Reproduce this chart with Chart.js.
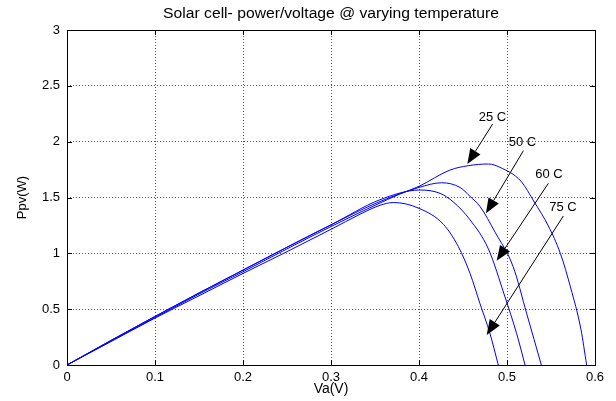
<!DOCTYPE html>
<html>
<head>
<meta charset="utf-8">
<script src="https://cdn.jsdelivr.net/npm/chart.js@4.4.1/dist/chart.umd.min.js"></script>
<style>
  html, body { margin: 0; background: #fff; }
  #wrap { width: 616px; height: 401px; }
</style>
</head>
<body>
<div id="wrap"><canvas id="pvChart"></canvas></div>
<script>
// P-V curves (voltage in V, power in W)
const volt25 = [0, 0.05, 0.1, 0.15, 0.2, 0.25, 0.3, 0.35, 0.378, 0.4, 0.435, 0.456, 0.479, 0.492, 0.5156, 0.531, 0.547, 0.5606, 0.5724, 0.584, 0.5905];
const pow25  = [0, 0.215, 0.425, 0.635, 0.835, 1.04, 1.24, 1.43, 1.53, 1.60, 1.745, 1.785, 1.80, 1.77, 1.648, 1.46, 1.245, 1.0, 0.69, 0.32, 0];

const volt50 = [0, 0.05, 0.1, 0.15, 0.2, 0.25, 0.3, 0.35, 0.4, 0.4258, 0.4466, 0.458, 0.4693, 0.4864, 0.507, 0.5224, 0.539];
const pow50  = [0, 0.22, 0.435, 0.645, 0.85, 1.055, 1.255, 1.445, 1.59, 1.632, 1.59, 1.51, 1.42, 1.19, 0.88, 0.46, 0];

const volt60 = [0, 0.05, 0.1, 0.15, 0.2, 0.25, 0.3, 0.3557, 0.401, 0.424, 0.439, 0.458, 0.4788, 0.4977, 0.511, 0.5205];
const pow60  = [0, 0.22, 0.435, 0.645, 0.85, 1.055, 1.255, 1.48, 1.567, 1.537, 1.46, 1.30, 1.04, 0.61, 0.28, 0];

const volt75 = [0, 0.05, 0.1, 0.15, 0.2, 0.25, 0.3, 0.333, 0.3557, 0.371, 0.40, 0.4277, 0.4447, 0.458, 0.4693, 0.4807, 0.4901];
const pow75  = [0, 0.21, 0.42, 0.62, 0.82, 1.015, 1.215, 1.35, 1.43, 1.455, 1.403, 1.26, 1.06, 0.82, 0.55, 0.28, 0];

// arrow annotations (data coordinates)
const arrowText = ['25 C', '50 C', '60 C', '75 C'];
const textX = [0.4835, 0.5176, 0.5477, 0.5636];
const textY = [2.22, 1.99, 1.71, 1.41];
const fromX = [0.4837, 0.5186, 0.547, 0.564];
const fromY = [2.158, 1.919, 1.627, 1.334];
const tipX  = [0.4549, 0.4761, 0.4883, 0.4769];
const tipY  = [1.80, 1.358, 0.934, 0.269];

const xTicks = [0, 0.1, 0.2, 0.3, 0.4, 0.5, 0.6];
const yTicks = [0, 0.5, 1, 1.5, 2, 2.5, 3];

const FONT = 'Liberation Sans, Arial, sans-serif';

function pts(xs, ys) {
    return xs.map((v, i) => ({ x: v, y: ys[i] }));
}

function series(label, xs, ys) {
    return {
        label: label,
        data: pts(xs, ys),
        borderColor: '#0000ff',
        borderWidth: 1,
        pointRadius: 0,
        fill: false,
        cubicInterpolationMode: 'monotone',
    };
}

const boxPlugin = {
    id: 'matlabBox',
    beforeDraw(chart) {
        const c = chart.ctx;
        c.save();
        c.fillStyle = '#fff';
        c.fillRect(0, 0, chart.width, chart.height);
        c.restore();
    },
    afterDraw(chart) {
        const c = chart.ctx;
        const { left, right, top, bottom } = chart.chartArea;
        const xs = chart.scales.x, ys = chart.scales.y;
        c.save();
        c.strokeStyle = '#000';
        c.lineWidth = 1;
        c.strokeRect(Math.round(left) + 0.5, Math.round(top) + 0.5, Math.round(right - left), Math.round(bottom - top));
        // inward ticks
        c.beginPath();
        xTicks.forEach(v => {
            const px = Math.round(xs.getPixelForValue(v)) + 0.5;
            c.moveTo(px, bottom); c.lineTo(px, bottom - 5);
            c.moveTo(px, top); c.lineTo(px, top + 5);
        });
        yTicks.forEach(v => {
            const py = Math.round(ys.getPixelForValue(v)) + 0.5;
            c.moveTo(left, py); c.lineTo(left + 5, py);
            c.moveTo(right, py); c.lineTo(right - 5, py);
        });
        c.stroke();

        // title (reference text is a bit wider than Arial)
        c.fillStyle = '#000';
        c.textAlign = 'center';
        c.textBaseline = 'middle';
        c.save();
        c.translate((left + right) / 2, 14);
        c.scale(1.12, 1);
        c.font = '14px ' + FONT;
        c.fillText('Solar cell- power/voltage @ varying temperature', 0, 0);
        c.restore();

        // arrows
        c.font = '13px ' + FONT;
        arrowText.forEach((t, i) => {
            const x1 = xs.getPixelForValue(fromX[i]), y1 = ys.getPixelForValue(fromY[i]);
            const x2 = xs.getPixelForValue(tipX[i]), y2 = ys.getPixelForValue(tipY[i]);
            const ang = Math.atan2(y2 - y1, x2 - x1);
            const len = 15, hw = 6;
            const bx = x2 - len * Math.cos(ang), by = y2 - len * Math.sin(ang);
            c.beginPath();
            c.moveTo(x1, y1); c.lineTo(bx, by);
            c.stroke();
            c.beginPath();
            c.moveTo(x2, y2);
            c.lineTo(bx + hw * Math.sin(ang), by - hw * Math.cos(ang));
            c.lineTo(bx - hw * Math.sin(ang), by + hw * Math.cos(ang));
            c.closePath();
            c.fill();
            c.fillText(t, xs.getPixelForValue(textX[i]), ys.getPixelForValue(textY[i]));
        });
        c.restore();
    }
};

const ctx = document.getElementById('pvChart').getContext('2d');

const config = {
    type: 'line',
    data: {
        datasets: [
            series('25 C', volt25, pow25),
            series('50 C', volt50, pow50),
            series('60 C', volt60, pow60),
            series('75 C', volt75, pow75),
        ],
    },
    options: {
        responsive: true,
        maintainAspectRatio: false,
        animation: false,
        layout: { padding: { top: 30, right: 21, left: 0, bottom: 0 } },
        plugins: {
            legend: { display: false },
            tooltip: { enabled: false },
        },
        scales: {
            x: {
                type: 'linear',
                min: 0,
                max: 0.6,
                afterFit: (s) => { s.height = 36; },
                afterBuildTicks: (s) => { s.ticks = xTicks.map(v => ({ value: v })); },
                ticks: {
                    color: '#000', padding: 5, font: { family: FONT, size: 13 },
                    callback: (v) => String(Math.round(v * 10) / 10),
                },
                grid: { color: '#555', drawTicks: false, tickLength: 0 },
                border: { display: false, dash: [1, 2] },
                title: { display: true, text: 'Va(V)', color: '#000', padding: { top: 0, bottom: 3 }, font: { family: FONT, size: 14 } },
            },
            y: {
                min: 0,
                max: 3,
                afterFit: (s) => { s.width = 67; },
                afterBuildTicks: (s) => { s.ticks = yTicks.map(v => ({ value: v })); },
                ticks: {
                    color: '#000', padding: 7, font: { family: FONT, size: 13 },
                    callback: (v) => String(Math.round(v * 10) / 10),
                },
                grid: { color: '#555', drawTicks: false, tickLength: 0 },
                border: { display: false, dash: [1, 2] },
                title: { display: true, text: 'Ppv(W)', color: '#000', padding: { top: 15, bottom: 0 }, font: { family: FONT, size: 13 } },
            },
        },
    },
    plugins: [boxPlugin],
};

const pvChart = new Chart(ctx, config);
</script>
</body>
</html>
